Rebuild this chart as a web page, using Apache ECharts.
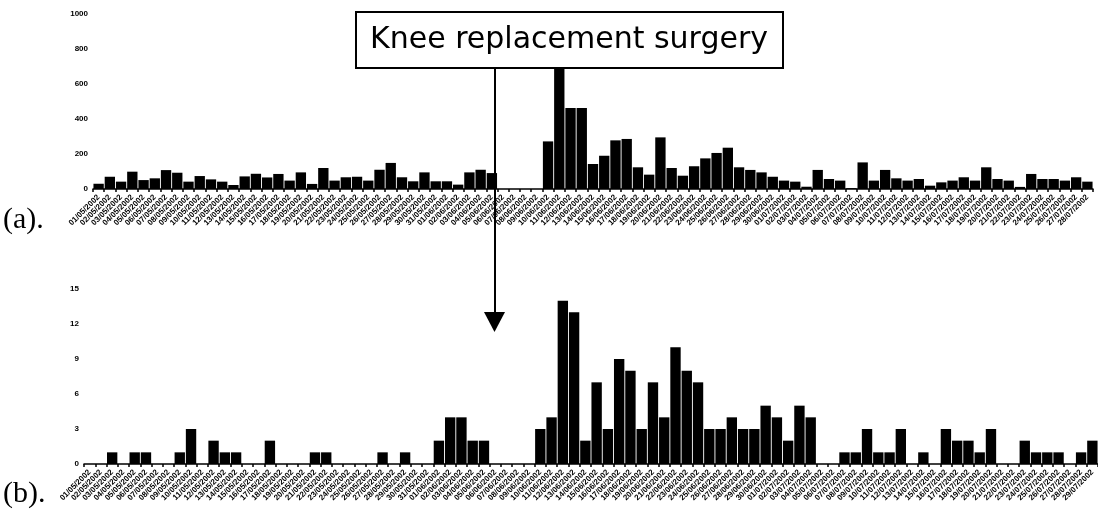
<!DOCTYPE html>
<html>
<head>
<meta charset="utf-8">
<script src="https://cdn.jsdelivr.net/npm/echarts@6/dist/echarts.min.js"></script>
<style>
  html, body { margin: 0; padding: 0; background: #fff; }
  #chart { width: 1098px; height: 517px; }
</style>
</head>
<body>
<div id="chart"></div>
<script>
// daily dates shown under both panels (top panel uses the first 89)
const dates = [
  '01/05/2002', '02/05/2002', '03/05/2002', '04/05/2002', '05/05/2002', '06/05/2002', '07/05/2002', '08/05/2002', '09/05/2002', '10/05/2002',
  '11/05/2002', '12/05/2002', '13/05/2002', '14/05/2002', '15/05/2002', '16/05/2002', '17/05/2002', '18/05/2002', '19/05/2002', '20/05/2002',
  '21/05/2002', '22/05/2002', '23/05/2002', '24/05/2002', '25/05/2002', '26/05/2002', '27/05/2002', '28/05/2002', '29/05/2002', '30/05/2002',
  '31/05/2002', '01/06/2002', '02/06/2002', '03/06/2002', '04/06/2002', '05/06/2002', '06/06/2002', '07/06/2002', '08/06/2002', '09/06/2002',
  '10/06/2002', '11/06/2002', '12/06/2002', '13/06/2002', '14/06/2002', '15/06/2002', '16/06/2002', '17/06/2002', '18/06/2002', '19/06/2002',
  '20/06/2002', '21/06/2002', '22/06/2002', '23/06/2002', '24/06/2002', '25/06/2002', '26/06/2002', '27/06/2002', '28/06/2002', '29/06/2002',
  '30/06/2002', '01/07/2002', '02/07/2002', '03/07/2002', '04/07/2002', '05/07/2002', '06/07/2002', '07/07/2002', '08/07/2002', '09/07/2002',
  '10/07/2002', '11/07/2002', '12/07/2002', '13/07/2002', '14/07/2002', '15/07/2002', '16/07/2002', '17/07/2002', '18/07/2002', '19/07/2002',
  '20/07/2002', '21/07/2002', '22/07/2002', '23/07/2002', '24/07/2002', '25/07/2002', '26/07/2002', '27/07/2002', '28/07/2002', '29/07/2002'
];

// (a) activity counts
const activityValues = [
  30, 70, 42, 99, 51, 61, 108, 93, 42, 74,
  55, 42, 23, 72, 87, 66, 86, 48, 95, 29,
  120, 48, 67, 70, 48, 110, 149, 67, 44, 95,
  44, 44, 25, 95, 110, 91, 0, 0, 0, 0,
  272, 800, 463, 463, 143, 190, 278, 286, 124, 82,
  295, 120, 76, 130, 175, 206, 236, 124, 109, 95,
  70, 48, 42, 13, 109, 57, 48, 5, 152, 48,
  109, 61, 48, 57, 19, 38, 48, 67, 48, 124,
  57, 48, 12, 86, 57, 57, 48, 67, 42
];

// (b) event counts
const eventValues = [
  0, 0, 1, 0, 1, 1, 0, 0, 1, 3,
  0, 2, 1, 1, 0, 0, 2, 0, 0, 0,
  1, 1, 0, 0, 0, 0, 1, 0, 1, 0,
  0, 2, 4, 4, 2, 2, 0, 0, 0, 0,
  3, 4, 14, 13, 2, 7, 3, 9, 8, 3,
  7, 4, 10, 8, 7, 3, 3, 4, 3, 3,
  5, 4, 2, 5, 4, 0, 0, 1, 1, 3,
  1, 1, 3, 0, 1, 0, 3, 2, 2, 1,
  3, 0, 0, 2, 1, 1, 1, 0, 1, 2
];

const annotationText = 'Knee replacement surgery';

const chart = echarts.init(document.getElementById('chart'), null, { renderer: 'canvas' });

const tickFont = {
  color: '#000',
  fontSize: 8,
  fontWeight: 'bold',
  fontFamily: 'Liberation Sans'
};

const makeXAxis = (gridIndex, data) => ({
  type: 'category',
  gridIndex,
  data,
  axisLine: { show: true, lineStyle: { color: '#000', width: 1.5 } },
  axisTick: { show: true, interval: 0, length: 3, lineStyle: { color: '#000', width: 1.5 } },
  axisLabel: { ...tickFont, interval: 0, rotate: 45, margin: 7 },
  splitLine: { show: false }
});

const makeYAxis = (gridIndex, max, interval) => ({
  type: 'value',
  gridIndex,
  min: 0,
  max,
  interval,
  axisLine: { show: false },
  axisTick: { show: false },
  splitLine: { show: false },
  axisLabel: { ...tickFont, margin: 5, formatter: (v) => String(v) }
});

chart.setOption({
  animation: false,
  backgroundColor: '#fff',
  grid: [
    { left: 93, top: 14, width: 1000, height: 175, containLabel: false, outerBoundsMode: 'none' },
    { left: 84, top: 289, width: 1014, height: 175, containLabel: false, outerBoundsMode: 'none' }
  ],
  xAxis: [
    makeXAxis(0, dates.slice(0, activityValues.length)),
    makeXAxis(1, dates.slice(0, eventValues.length))
  ],
  yAxis: [
    makeYAxis(0, 1000, 200),
    makeYAxis(1, 15, 3)
  ],
  series: [
    {
      type: 'bar',
      xAxisIndex: 0,
      yAxisIndex: 0,
      data: activityValues,
      barCategoryGap: '8%',
      itemStyle: { color: '#000' }
    },
    {
      type: 'bar',
      xAxisIndex: 1,
      yAxisIndex: 1,
      data: eventValues,
      barCategoryGap: '8%',
      itemStyle: { color: '#000' }
    }
  ],
  graphic: [
    {
      type: 'line',
      z: 100,
      shape: { x1: 495, y1: 68, x2: 495, y2: 316 },
      style: { stroke: '#000', lineWidth: 2 }
    },
    {
      type: 'polygon',
      z: 100,
      shape: { points: [[484, 312], [505, 312], [494.5, 332]] },
      style: { fill: '#000' }
    },
    {
      type: 'rect',
      z: 100,
      shape: { x: 356, y: 12, width: 427, height: 56 },
      style: { fill: '#fff', stroke: '#000', lineWidth: 2 }
    },
    {
      type: 'text',
      z: 101,
      x: 569,
      y: 40,
      style: {
        text: annotationText,
        fill: '#000',
        font: '30px "DejaVu Sans"',
        align: 'center',
        verticalAlign: 'middle'
      }
    },
    {
      type: 'text',
      z: 101,
      x: 3,
      y: 220,
      style: {
        text: '(a).',
        fill: '#000',
        font: '30px "Liberation Serif"',
        verticalAlign: 'middle'
      }
    },
    {
      type: 'text',
      z: 101,
      x: 3,
      y: 494,
      style: {
        text: '(b).',
        fill: '#000',
        font: '30px "Liberation Serif"',
        verticalAlign: 'middle'
      }
    }
  ]
});

window.addEventListener('resize', () => chart.resize());
</script>
</body>
</html>
